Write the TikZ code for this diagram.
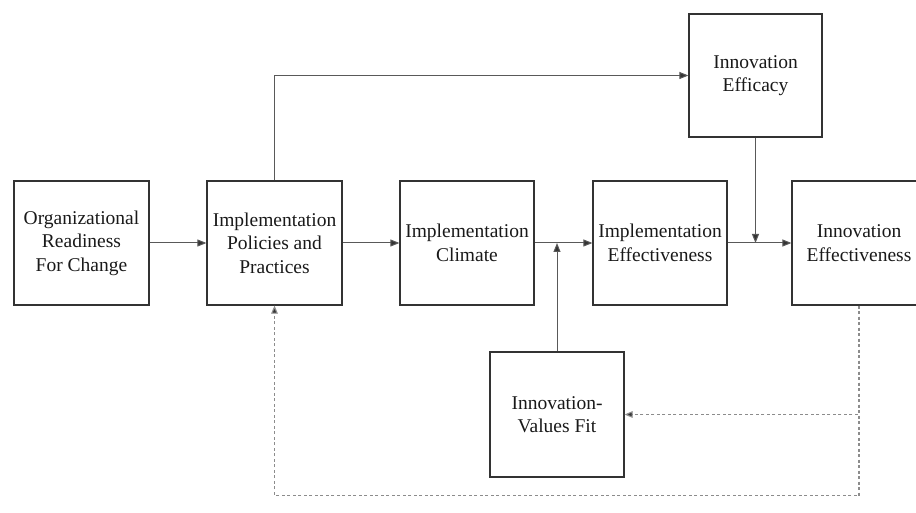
\documentclass[tikz,border=0pt]{standalone}
\usepackage{fontspec}
\setmainfont{Liberation Serif}
\usetikzlibrary{arrows.meta}
\begin{document}
\begin{tikzpicture}[x=1pt,y=-1pt,
  box/.style={draw=black!80,line width=1.2pt,minimum width=135pt,minimum height=124pt,
    inner sep=0pt,align=center,font=\fontsize{19.5}{23.5}\selectfont,text=black!90},
  conn/.style={draw=black!65,line width=1pt,-{Triangle[length=9pt,width=7pt,fill=black!80]}},
  dconn/.style={draw=black!45,line width=1.1pt,dash pattern=on 3pt off 2.5pt,-{Triangle[length=8pt,width=6.5pt,fill=black!80]}}]
\useasboundingbox (0,0) rectangle (916,513);
\node[box] (org) at (81.5,243) {Organizational\\Readiness\\For Change};
\node[box] (pol) at (274.5,243) {Implementation\\Policies and\\Practices};
\node[box,minimum width=134pt] (clim) at (467,243) {Implementation\\Climate};
\node[box,minimum width=134pt] (ieff) at (660,243) {Implementation\\Effectiveness};
\node[box,minimum width=134pt] (inneff) at (859,243) {Innovation\\Effectiveness};
\node[box,minimum width=133pt,minimum height=123pt] (effic) at (755.5,75.5) {Innovation\\Efficacy};
\node[box,minimum width=134pt,minimum height=125pt] (fit) at (557,414.5) {Innovation-\\Values Fit};
\coordinate (m1) at (557,243);
\coordinate (m2) at (755.5,243);
\draw[conn] (org) -- (pol);
\draw[conn] (pol) -- (clim);
\draw[conn] (clim) -- (ieff);
\draw[conn] (ieff) -- (inneff);
\draw[conn] (fit.north) -- (m1);
\draw[conn] (effic.south) -- (m2);
\draw[conn] (pol.north) |- (effic.west);
\draw[dconn] (inneff.south) |- (fit.east);
\draw[dconn] (inneff.south) -- ++(0,190) -| (pol.south);
\end{tikzpicture}
\end{document}
